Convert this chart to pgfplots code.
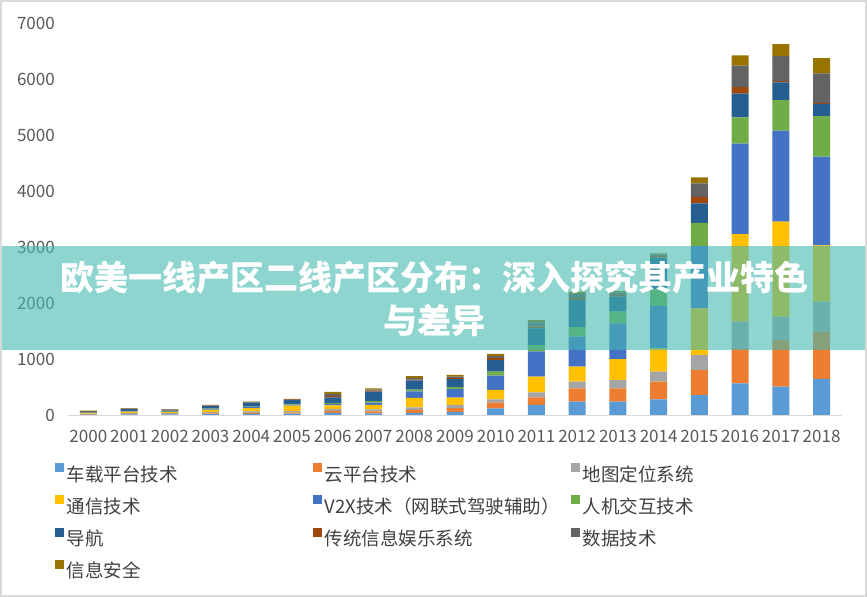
\documentclass[border=0pt]{standalone}
\usepackage{pgfplots}
\pgfplotsset{compat=1.18}
\usepackage{pgfplotstable}
\usepackage{fontspec}
\setmainfont{Noto Sans CJK SC}

\definecolor{s1}{HTML}{5B9BD5}
\definecolor{s2}{HTML}{ED7D31}
\definecolor{s3}{HTML}{A5A5A5}
\definecolor{s4}{HTML}{FFC000}
\definecolor{s5}{HTML}{4472C4}
\definecolor{s6}{HTML}{70AD47}
\definecolor{s7}{HTML}{255E91}
\definecolor{s8}{HTML}{9E480E}
\definecolor{s9}{HTML}{636363}
\definecolor{s10}{HTML}{997300}
\definecolor{band}{RGB}{68,185,177}
\definecolor{ticktext}{HTML}{595959}
\definecolor{legtext}{HTML}{404040}

% columns: 车载平台 云平台 地图定位 通信 V2X 人机交互 导航 传统娱乐 数据 信息安全
\pgfplotstableread{
year a b c d e f g h i j
2000 8 8 10 10 3 3 10 5 12 8
2001 10 10 12 30 5 5 35 5 8 5
2002 10 10 12 20 5 5 15 5 20 5
2003 15 15 20 40 10 12 50 5 7 5
2004 20 20 25 60 15 10 70 5 8 5
2005 23 23 23 98 18 12 75 5 5 5
2006 36 36 36 62 27 18 98 27 36 36
2007 30 36 36 77 41 30 166 18 21 21
2008 36 54 48 168 118 30 166 18 27 27
2009 55 66 59 130 150 36 143 18 27 32
2010 120 100 61 166 255 71 209 36 36 36
2011 179 137 89 279 450 116 298 36 71 41
2012 238 239 118 268 536 168 488 36 71 41
2013 238 239 148 375 637 207 268 27 45 27
2014 280 314 179 418 755 298 566 27 27 23
2015 357 446 268 834 1112 416 346 118 239 107
2016 566 612 488 1566 1612 470 423 120 380 184
2017 505 834 416 1696 1625 548 316 20 450 214
2018 643 848 532 1004 1586 726 215 20 528 273
}\market

\begin{document}
\begin{tikzpicture}
\useasboundingbox (0,0) rectangle (867bp,597bp);
\fill[white] (0,0) rectangle (867bp,597bp);
\begin{axis}[
  at={(68bp,182bp)}, anchor=south west,
  scale only axis, width=774bp, height=392bp,
  ybar stacked, bar width=17bp,
  xmin=1999.5, xmax=2018.5, ymin=0, ymax=7000,
  xtick={2000,...,2018}, ytick={0,1000,...,7000},
  axis lines*=left,
  x axis line style={draw=black!15, line width=1bp, -},
  y axis line style={draw=none},
  tick style={draw=none},
  /pgf/number format/assume math mode=true,
  /pgf/number format/1000 sep={},
  tick label style={font=\fontsize{17bp}{20bp}\selectfont, text=ticktext, inner sep=0pt},
  yticklabel style={xshift=-13bp},
  xticklabel style={yshift=-15bp},
  legend columns=3,
  legend cell align=left,
  legend style={at={(-0.0168,-0.1224)}, anchor=north west, draw=none, fill=none,
    font=\fontsize{18.5bp}{22bp}\selectfont, text=legtext, inner sep=0pt,
    row sep=10.2bp, column sep=2.5bp,
    nodes={inner sep=0pt, text height=15bp, text depth=4bp}},
  legend image code/.code={\fill[#1] (0bp,3.5bp) rectangle (9bp,12.5bp);},
]
\addplot[fill=s1, draw=none] table[x=year, y=a]{\market};
\addplot[fill=s2, draw=none] table[x=year, y=b]{\market};
\addplot[fill=s3, draw=none] table[x=year, y=c]{\market};
\addplot[fill=s4, draw=none] table[x=year, y=d]{\market};
\addplot[fill=s5, draw=none] table[x=year, y=e]{\market};
\addplot[fill=s6, draw=none] table[x=year, y=f]{\market};
\addplot[fill=s7, draw=none] table[x=year, y=g]{\market};
\addplot[fill=s8, draw=none] table[x=year, y=h]{\market};
\addplot[fill=s9, draw=none] table[x=year, y=i]{\market};
\addplot[fill=s10, draw=none] table[x=year, y=j]{\market};
\addlegendentry{\makebox[244bp][l]{车载平台技术}}
\addlegendentry{\makebox[244bp][l]{云平台技术}}
\addlegendentry{\makebox[244bp][l]{地图定位系统}}
\addlegendentry{\makebox[244bp][l]{通信技术}}
\addlegendentry{\makebox[244bp][l]{V2X技术（网联式驾驶辅助）}}
\addlegendentry{\makebox[244bp][l]{人机交互技术}}
\addlegendentry{\makebox[244bp][l]{导航}}
\addlegendentry{\makebox[244bp][l]{传统信息娱乐系统}}
\addlegendentry{\makebox[244bp][l]{数据技术}}
\addlegendentry{\makebox[244bp][l]{信息安全}}
\end{axis}
% translucent title banner over the chart
\fill[band, fill opacity=0.6] (0,247bp) rectangle (867bp,351bp);
\node[text=white, font=\bfseries\fontsize{34bp}{40bp}\selectfont, inner sep=0pt]
  at (434bp,319bp) {欧美一线产区二线产区分布：深入探究其产业特色};
\node[text=white, font=\bfseries\fontsize{34bp}{40bp}\selectfont, inner sep=0pt]
  at (434bp,276bp) {与差异};
\draw[black!15, line width=2bp] (1bp,1bp) rectangle (866bp,596bp);
\end{tikzpicture}
\end{document}
